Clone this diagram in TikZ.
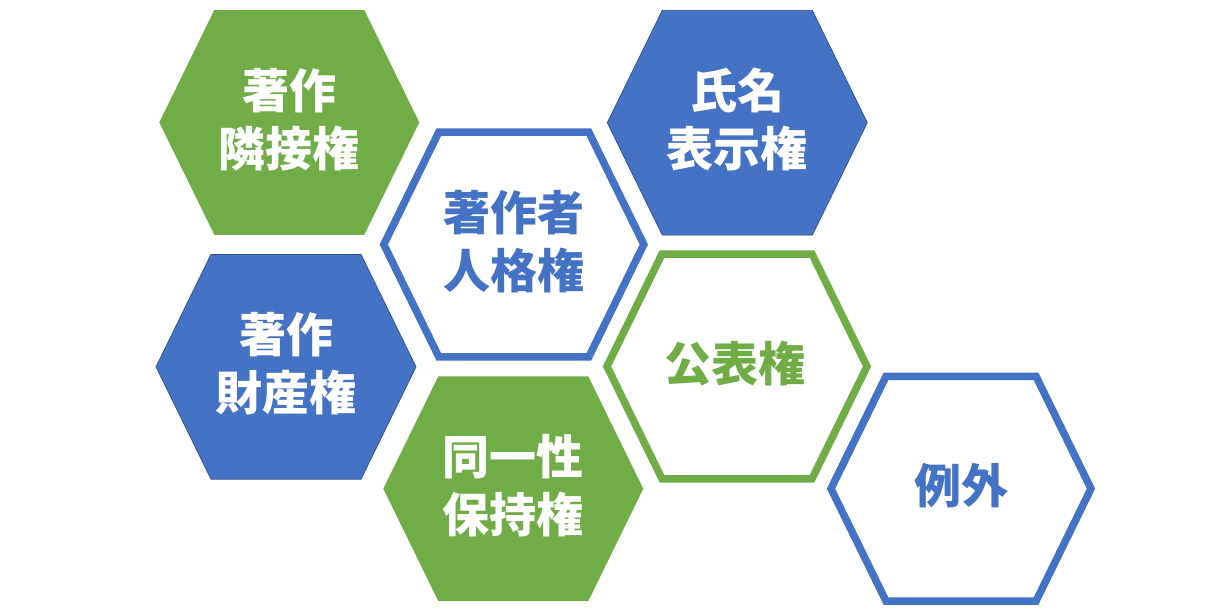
\documentclass[tikz,border=0pt]{standalone}
\usepackage{fontspec}
\newfontfamily\jp{Noto Sans CJK JP}
\definecolor{accgreen}{HTML}{70AD47}
\definecolor{accblue}{HTML}{4472C4}
\definecolor{darkblue}{HTML}{2F528F}
\begin{document}
\begin{tikzpicture}[x=1pt,y=-1pt,
  pics/hexa/.style={code={\path[pic actions] (-130,0) -- (-75,-112.4) -- (75,-112.4) -- (130,0) -- (75,112.4) -- (-75,112.4) -- cycle;}},
  greenfill/.style={fill=accgreen},
  bluefill/.style={fill=accblue, draw=darkblue, line width=0.75pt},
  greenline/.style={draw=accgreen, line width=7.5pt, line join=miter, fill=white},
  blueline/.style={draw=accblue, line width=7.5pt, line join=miter, fill=white},
  lbl/.style={font=\jp\bfseries\fontsize{47}{58}\selectfont, align=center, inner sep=0pt}]
\useasboundingbox (0,0) rectangle (1228,611);
% hexagons
\pic[greenfill] at (289.3,122.4) {hexa};
\pic[bluefill] at (737.3,122.7) {hexa};
\pic[blueline] at (513.8,244.5) {hexa};
\pic[bluefill] at (286,366.8) {hexa};
\pic[greenline] at (737,366.4) {hexa};
\pic[greenfill] at (513.3,488.7) {hexa};
\pic[blueline] at (961,488.7) {hexa};
% labels
\node[lbl, text=white] (t1) at (289.3,119.5) {著作\\隣接権};
\node[lbl, text=white] (t2) at (737.3,119.5) {氏名\\表示権};
\node[lbl, text=accblue] (t3) at (514,241.7) {著作者\\人格権};
\node[lbl, text=white] (t4) at (286,364) {著作\\財産権};
\node[lbl, text=accgreen] (t5) at (735,363.7) {公表権};
\node[lbl, text=white] (t6) at (513.3,486) {同一性\\保持権};
\node[lbl, text=accblue] (t7) at (961,485.7) {例外};
\end{tikzpicture}
\end{document}
